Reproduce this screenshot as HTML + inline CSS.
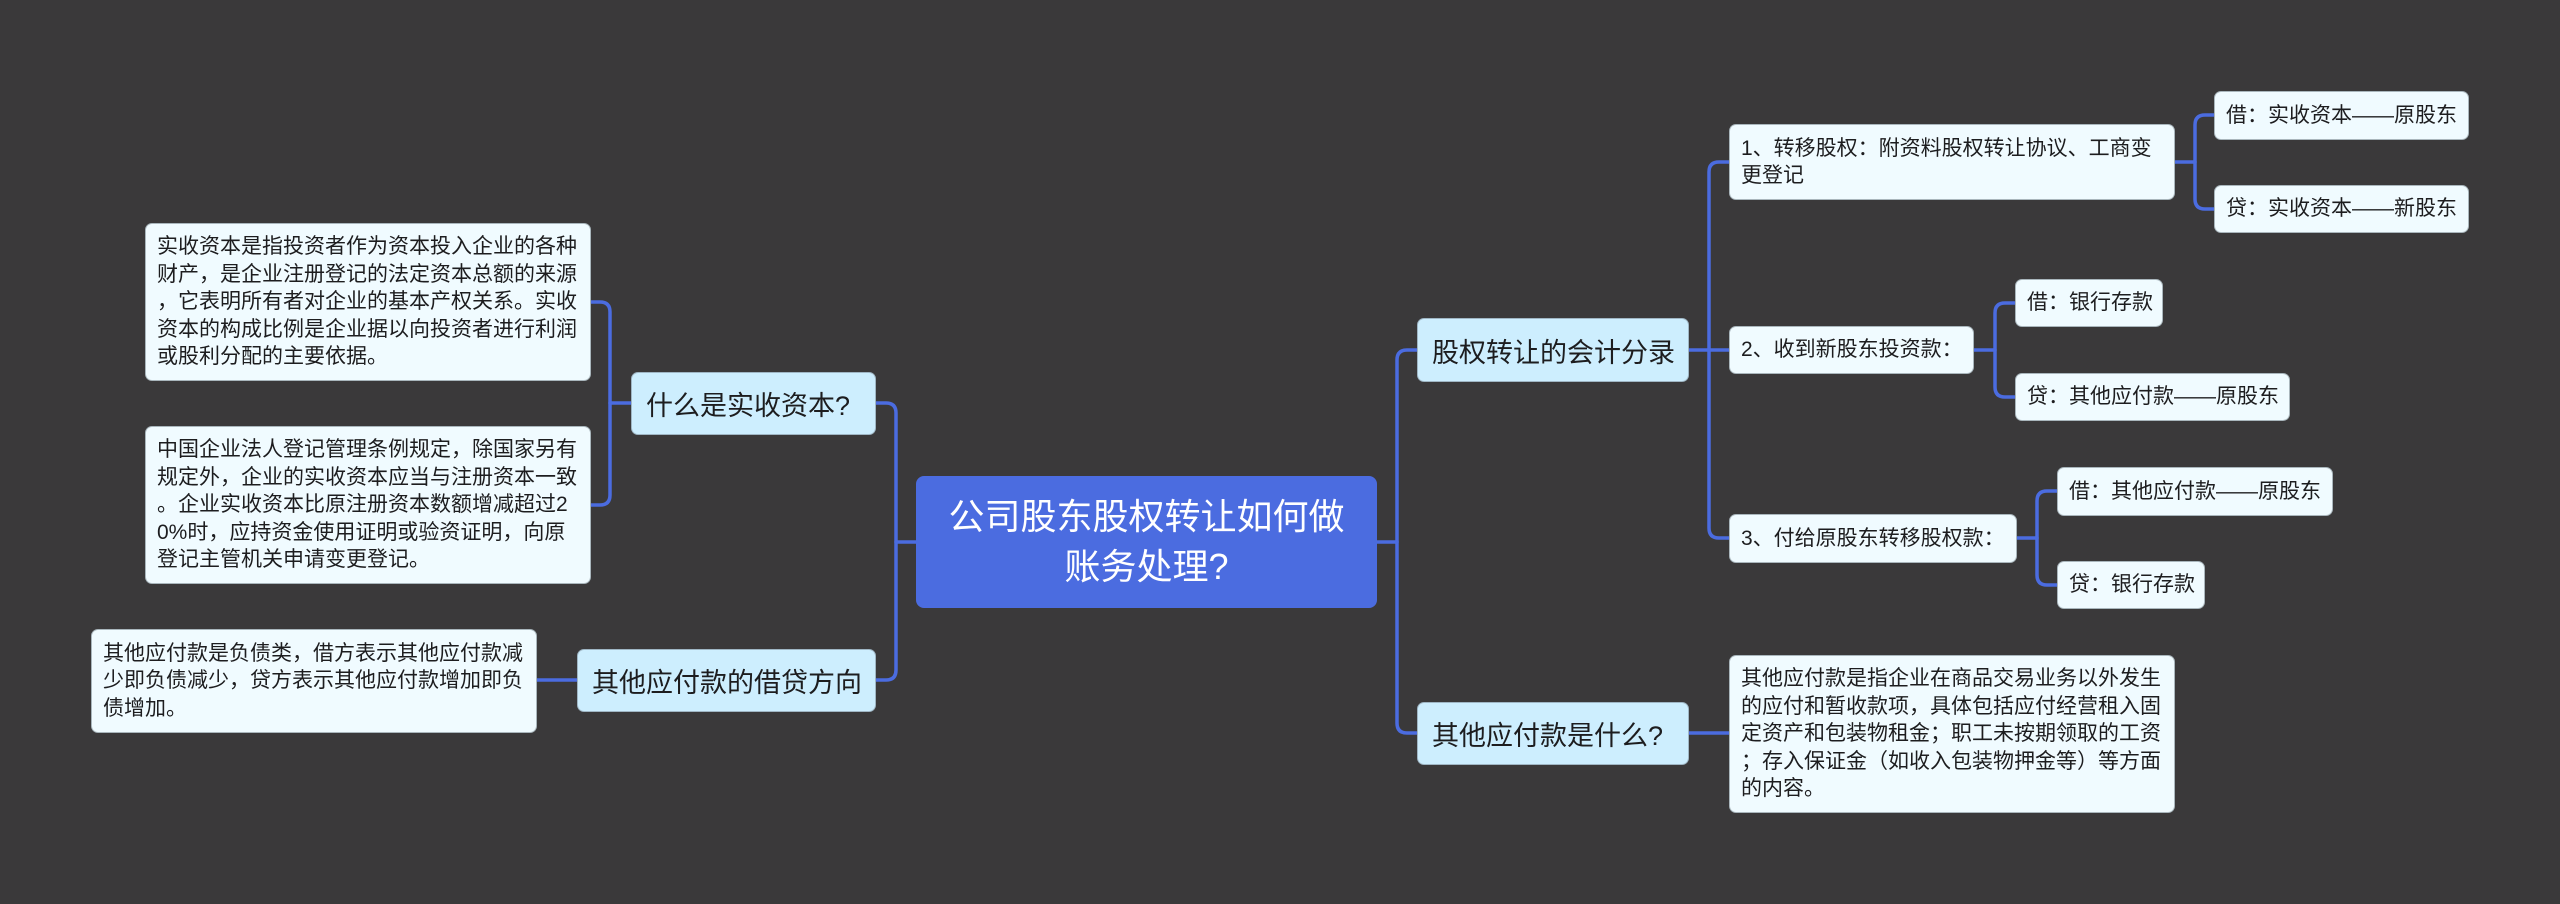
<!DOCTYPE html>
<html>
<head>
<meta charset="utf-8">
<style>
html,body{margin:0;padding:0;}
body{width:2560px;height:904px;background:#3a393a;position:relative;overflow:hidden;
font-family:"Liberation Sans","Noto Sans CJK SC",sans-serif;}
.n{position:absolute;box-sizing:border-box;display:flex;align-items:center;white-space:nowrap;color:#1d1d1f;border-radius:7px;}
.root{background:#4b6ce0;color:#fff;font-size:36px;line-height:50px;justify-content:center;text-align:center;border-radius:8px;}
.l1{background:#cdeefe;font-size:27px;padding-left:14px;border:1px solid #9fb6c4;}
.lf{background:#f0fbff;font-size:21px;line-height:27.5px;padding-left:11px;border:1px solid #a9b6bc;}
svg{position:absolute;left:0;top:0;}
</style>
</head>
<body>
<svg width="2560" height="904" viewBox="0 0 2560 904" fill="none" stroke="#4b6ce0" stroke-width="3.5" stroke-linecap="round">
  <!-- left side -->
  <path d="M916 542 H896"/>
  <path d="M876 403 H886 Q896 403 896 413 V670 Q896 680 886 680 H876"/>
  <path d="M631 403 H610"/>
  <path d="M591 302 H600 Q610 302 610 312 V495 Q610 505 600 505 H591"/>
  <path d="M577 680 H537"/>
  <!-- right side -->
  <path d="M1377 542 H1397"/>
  <path d="M1417 350 H1407 Q1397 350 1397 360 V723 Q1397 733 1407 733 H1417"/>
  <path d="M1689 350 H1729"/>
  <path d="M1729 162 H1719 Q1709 162 1709 172 V528 Q1709 538 1719 538 H1729"/>
  <path d="M2175 162 H2195"/>
  <path d="M2214 115 H2205 Q2195 115 2195 125 V199 Q2195 209 2205 209 H2214"/>
  <path d="M1974 350 H1995"/>
  <path d="M2015 303 H2005 Q1995 303 1995 313 V387 Q1995 397 2005 397 H2015"/>
  <path d="M2017 538 H2037"/>
  <path d="M2057 491 H2047 Q2037 491 2037 501 V575 Q2037 585 2047 585 H2057"/>
  <path d="M1689 733 H1729"/>
</svg>

<!-- root -->
<div class="n root" style="left:916px;top:476px;width:461px;height:132px;">公司股东股权转让如何做<br>账务处理?</div>

<!-- left level 1 -->
<div class="n l1" style="left:631px;top:372px;width:245px;height:63px;">什么是实收资本?</div>
<div class="n l1" style="left:577px;top:649px;width:299px;height:63px;">其他应付款的借贷方向</div>

<!-- left leaves -->
<div class="n lf" style="left:145px;top:223px;width:446px;height:158px;">实收资本是指投资者作为资本投入企业的各种<br>财产，是企业注册登记的法定资本总额的来源<br>，它表明所有者对企业的基本产权关系。实收<br>资本的构成比例是企业据以向投资者进行利润<br>或股利分配的主要依据。</div>
<div class="n lf" style="left:145px;top:426px;width:446px;height:158px;">中国企业法人登记管理条例规定，除国家另有<br>规定外，企业的实收资本应当与注册资本一致<br>。企业实收资本比原注册资本数额增减超过2<br>0%时，应持资金使用证明或验资证明，向原<br>登记主管机关申请变更登记。</div>
<div class="n lf" style="left:91px;top:629px;width:446px;height:104px;">其他应付款是负债类，借方表示其他应付款减<br>少即负债减少，贷方表示其他应付款增加即负<br>债增加。</div>

<!-- right level 1 -->
<div class="n l1" style="left:1417px;top:318px;width:272px;height:64px;">股权转让的会计分录</div>
<div class="n l1" style="left:1417px;top:702px;width:272px;height:63px;">其他应付款是什么?</div>

<!-- right level 2 -->
<div class="n lf" style="left:1729px;top:124px;width:446px;height:76px;line-height:27px;">1、转移股权：附资料股权转让协议、工商变<br>更登记</div>
<div class="n lf" style="left:1729px;top:326px;width:245px;height:48px;">2、收到新股东投资款：</div>
<div class="n lf" style="left:1729px;top:514px;width:288px;height:49px;">3、付给原股东转移股权款：</div>
<div class="n lf" style="left:1729px;top:655px;width:446px;height:158px;">其他应付款是指企业在商品交易业务以外发生<br>的应付和暂收款项，具体包括应付经营租入固<br>定资产和包装物租金；职工未按期领取的工资<br>；存入保证金（如收入包装物押金等）等方面<br>的内容。</div>

<!-- right level 3 -->
<div class="n lf" style="left:2214px;top:91px;width:255px;height:49px;">借：实收资本——原股东</div>
<div class="n lf" style="left:2214px;top:185px;width:255px;height:48px;">贷：实收资本——新股东</div>
<div class="n lf" style="left:2015px;top:279px;width:148px;height:48px;">借：银行存款</div>
<div class="n lf" style="left:2015px;top:373px;width:275px;height:48px;">贷：其他应付款——原股东</div>
<div class="n lf" style="left:2057px;top:467px;width:276px;height:49px;">借：其他应付款——原股东</div>
<div class="n lf" style="left:2057px;top:561px;width:148px;height:48px;">贷：银行存款</div>
</body>
</html>
